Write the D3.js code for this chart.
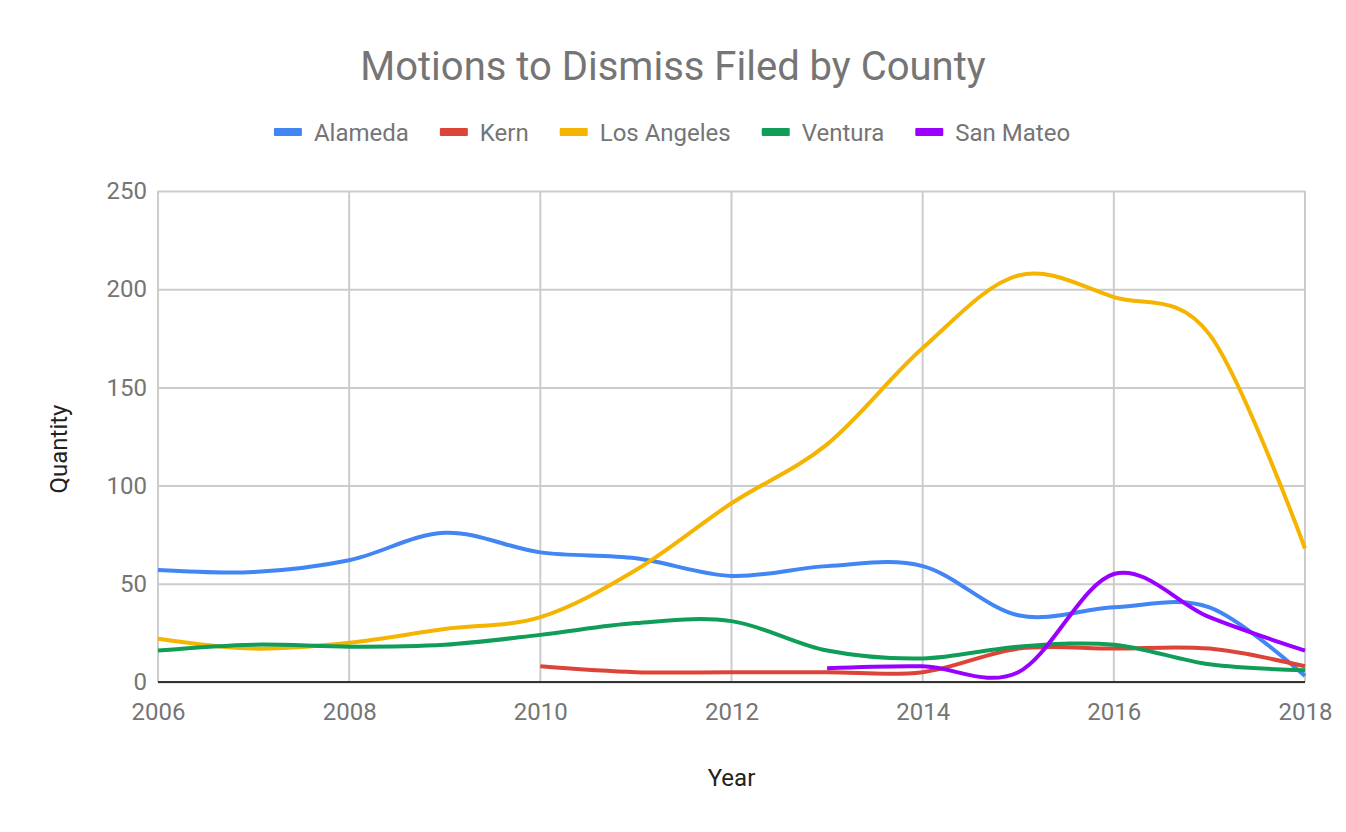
<!DOCTYPE html>
<html>
<head>
<meta charset="utf-8">
<script src="https://cdn.jsdelivr.net/npm/d3@7"></script>
<style>
  body { margin: 0; background: #fff; }
  text { font-family: Roboto, "Noto Sans", sans-serif; }
</style>
</head>
<body>
<svg id="chart" width="1346" height="832"></svg>
<script>
// chart data
var years = [2006, 2007, 2008, 2009, 2010, 2011, 2012, 2013, 2014, 2015, 2016, 2017, 2018];
var alameda    = [57, 56, 62, 76, 66, 63, 54, 59, 59, 34, 38, 38, 3];
var kern       = [null, null, null, null, 8, 5, 5, 5, 5, 17, 17, 17, 8];
var losAngeles = [22, 17, 20, 27, 33, 57, 91, 121, 170, 207, 196, 177, 68];
var ventura    = [16, 19, 18, 19, 24, 30, 31, 16, 12, 18, 19, 9, 6];
var sanMateo   = [null, null, null, null, null, null, null, 7, 8, 5, 55, 33, 16];
var yTicks = [0, 50, 100, 150, 200, 250];
var xTicks = [2006, 2008, 2010, 2012, 2014, 2016, 2018];

var series = [
    {name: "Alameda", values: alameda, color: "#4285f4"},
    {name: "Kern", values: kern, color: "#db4437"},
    {name: "Los Angeles", values: losAngeles, color: "#f4b400"},
    {name: "Ventura", values: ventura, color: "#0f9d58"},
    {name: "San Mateo", values: sanMateo, color: "#9900ff"}
];

var svg = d3.select("#chart");
var margin = {top: 191, right: 41, bottom: 150, left: 158};
var width = +svg.attr("width") - margin.left - margin.right;
var height = +svg.attr("height") - margin.top - margin.bottom;

var x = d3.scaleLinear().domain([2006, 2018]).range([0, width]);
var y = d3.scaleLinear().domain([0, 250]).range([height, 0]);

var g = svg.append("g").attr("transform", "translate(" + margin.left + "," + margin.top + ")");

// grid
g.append("g").selectAll("line").data(yTicks).enter().append("line")
    .attr("x1", 0).attr("x2", width)
    .attr("y1", function(d) { return y(d) + 0.5; }).attr("y2", function(d) { return y(d) + 0.5; })
    .attr("stroke", "#cccccc").attr("stroke-width", 2);
g.append("g").selectAll("line").data(xTicks).enter().append("line")
    .attr("x1", function(d) { return x(d); }).attr("x2", function(d) { return x(d); })
    .attr("y1", 0).attr("y2", height)
    .attr("stroke", "#cccccc").attr("stroke-width", 2);

// axes
var yAxis = g.append("g").call(d3.axisLeft(y).tickValues(yTicks).tickSize(0).tickPadding(11));
yAxis.select(".domain").remove();
yAxis.selectAll("text").attr("font-size", 24).attr("fill", "#757575")
    .attr("font-family", "Roboto, sans-serif");

var xAxis = g.append("g").attr("transform", "translate(0," + height + ")")
    .call(d3.axisBottom(x).tickValues(xTicks).tickFormat(d3.format("d")).tickSize(0).tickPadding(21));
xAxis.select(".domain").remove();
xAxis.selectAll("text").attr("font-size", 24).attr("fill", "#757575")
    .attr("font-family", "Roboto, sans-serif");

// lines
var line = d3.line()
    .defined(function(d) { return d.v != null; })
    .x(function(d) { return x(d.year); })
    .y(function(d) { return y(d.v); })
    .curve(d3.curveCatmullRom.alpha(0));

series.forEach(function(s) {
    var pts = years.map(function(yr, i) { return {year: yr, v: s.values[i]}; });
    g.append("path").datum(pts)
        .attr("d", line)
        .attr("fill", "none")
        .attr("stroke", s.color)
        .attr("stroke-width", 4)
        .attr("stroke-linejoin", "round");
});

// baseline
g.append("line").attr("x1", 0).attr("x2", width).attr("y1", height).attr("y2", height)
    .attr("stroke", "#333333").attr("stroke-width", 2);

// titles
svg.append("text").attr("x", 673).attr("y", 80).attr("text-anchor", "middle")
    .attr("font-size", 40).attr("fill", "#757575").text("Motions to Dismiss Filed by County");

svg.append("text").attr("x", margin.left + width / 2).attr("y", 786).attr("text-anchor", "middle")
    .attr("font-size", 24).attr("fill", "#222").text("Year");

svg.append("text").attr("transform", "translate(67,449) rotate(-90)")
    .attr("text-anchor", "middle").attr("font-size", 24).attr("fill", "#222").text("Quantity");

// legend
var legend = svg.append("g");
var lx = 0;
series.forEach(function(s) {
    var item = legend.append("g").attr("transform", "translate(" + lx + ",0)");
    item.append("rect").attr("x", 0).attr("y", -4).attr("width", 28).attr("height", 8)
        .attr("rx", 1).attr("fill", s.color);
    var t = item.append("text").attr("x", 40).attr("y", 9).attr("font-size", 24)
        .attr("fill", "#757575").text(s.name);
    lx += 40 + t.node().getComputedTextLength() + 31;
});
lx -= 31;
legend.attr("transform", "translate(" + (672 - lx / 2) + ",132)");
</script>
</body>
</html>
